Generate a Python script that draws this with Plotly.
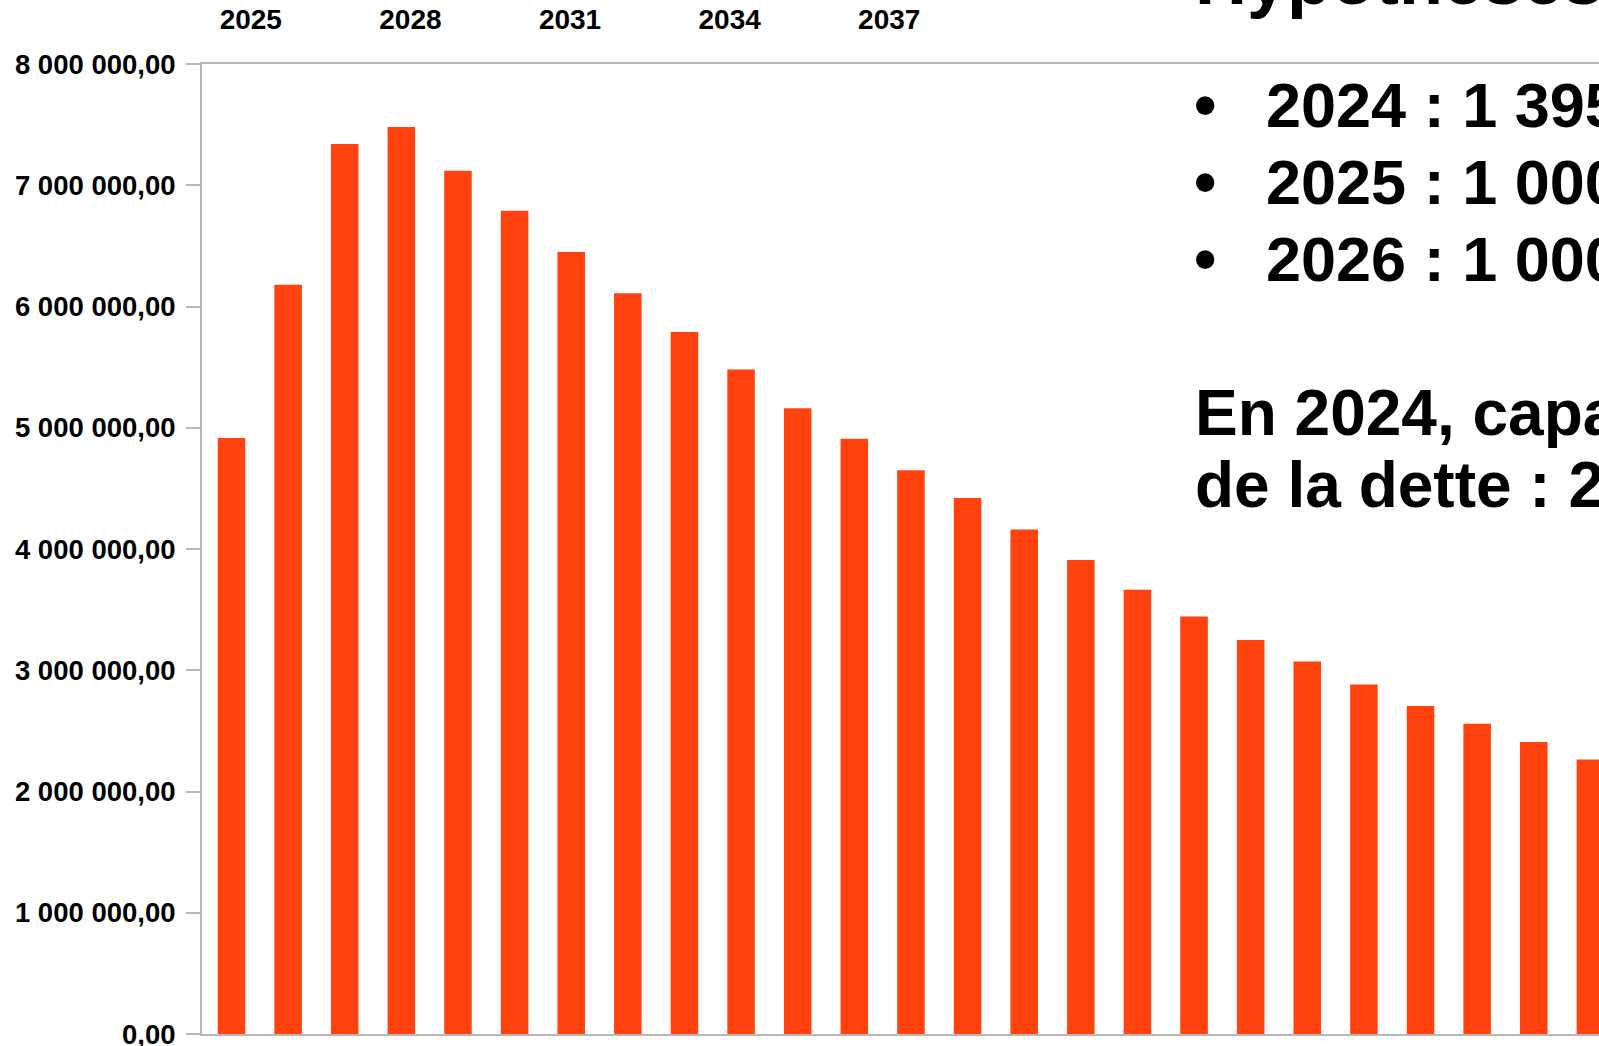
import plotly.graph_objects as go

# bar values (one bar per year)
years = list(range(2025, 2050))
amounts = [
    4915000, 6180000, 7340000, 7480000, 7120000, 6790000, 6450000, 6110000,
    5790000, 5480000, 5160000, 4910000, 4650000, 4420000, 4160000, 3910000,
    3663000, 3443000, 3250000, 3072000, 2882000, 2706000, 2558000, 2409000,
    2263000,
]

# y tick labels (french number format)
y_ticks = [0, 1000000, 2000000, 3000000, 4000000, 5000000, 6000000, 7000000, 8000000]
y_labels = ["0,00", "1 000 000,00", "2 000 000,00", "3 000 000,00", "4 000 000,00",
            "5 000 000,00", "6 000 000,00", "7 000 000,00", "8 000 000,00"]

# year labels shown along the top
top_years = [2025, 2028, 2031, 2034, 2037]

# slide text on the right
title_text = "Hypothèses"
bullet_lines = ["2024 : 1 395", "2025 : 1 000", "2026 : 1 000"]
para_lines = ["En 2024, capa", "de la dette : 2"]

BAR_COLOR = "#ff420e"
AXIS_GREY = "#b8b8b8"
FONT = "Liberation Sans"

W, H = 1599, 1046
M_L, M_T, M_B = 202, 64, 12
PLOT_W = W - M_L
PLOT_H = H - M_T - M_B


def px_x(p):
    return (p - M_L) / PLOT_W


def px_y(p):
    return (H - M_B - p) / PLOT_H


fig = go.Figure()
fig.add_trace(go.Bar(
    x=years,
    y=amounts,
    marker=dict(color=BAR_COLOR, line=dict(width=0)),
    showlegend=False,
))
# empty trace so the top year axis gets drawn
fig.add_trace(go.Scatter(
    x=top_years,
    y=[0] * len(top_years),
    xaxis="x2",
    mode="none",
    showlegend=False,
    hoverinfo="skip",
))

annotations = []
annotations.append(dict(
    text=title_text, x=px_x(1194), y=px_y(-21), xref="paper", yref="paper",
    xanchor="left", yanchor="middle", showarrow=False, borderpad=0,
    font=dict(family=FONT, size=72, color="black", weight="bold"),
))
for i, line in enumerate(bullet_lines):
    yc = 105 + i * 77
    annotations.append(dict(
        text="•", x=px_x(1193), y=px_y(yc), xref="paper", yref="paper",
        xanchor="left", yanchor="middle", showarrow=False, borderpad=0,
        font=dict(family=FONT, size=64, color="black", weight="bold"),
    ))
    annotations.append(dict(
        text=line, x=px_x(1265), y=px_y(yc), xref="paper", yref="paper",
        xanchor="left", yanchor="middle", showarrow=False, borderpad=0,
        font=dict(family=FONT, size=63, color="black", weight="bold"),
    ))
for i, line in enumerate(para_lines):
    yc = 413 + i * 72
    annotations.append(dict(
        text=line, x=px_x(1194), y=px_y(yc), xref="paper", yref="paper",
        xanchor="left", yanchor="middle", showarrow=False, borderpad=0,
        font=dict(family=FONT, size=64, color="black", weight="bold"),
    ))

fig.update_layout(
    width=W,
    height=H,
    margin=dict(l=M_L, r=0, t=M_T, b=M_B, pad=0),
    paper_bgcolor="white",
    plot_bgcolor="white",
    bargap=0.514,
    annotations=annotations,
    xaxis=dict(
        range=[2024.479, 2049.152],
        showticklabels=False,
        ticks="",
        showgrid=False,
        zeroline=False,
        showline=True,
        linecolor=AXIS_GREY,
        linewidth=2,
        mirror=True,
        automargin=False,
    ),
    xaxis2=dict(
        overlaying="x",
        side="top",
        range=[2024.083, 2050.34],
        tickmode="array",
        tickvals=top_years,
        ticktext=[str(y) for y in top_years],
        ticks="outside",
        ticklen=23,
        tickcolor="rgba(0,0,0,0)",
        showgrid=False,
        zeroline=False,
        showline=False,
        automargin=False,
        tickfont=dict(family=FONT, size=28, color="black", weight="bold"),
    ),
    yaxis=dict(
        range=[0, 8000000],
        tickmode="array",
        tickvals=y_ticks,
        ticktext=y_labels,
        ticks="outside",
        ticklen=14,
        tickwidth=2,
        tickcolor=AXIS_GREY,
        ticklabelstandoff=5,
        ticklabeloverflow="allow",
        showgrid=False,
        zeroline=False,
        showline=True,
        linecolor=AXIS_GREY,
        linewidth=2,
        automargin=False,
        tickfont=dict(family=FONT, size=27.5, color="black", weight="bold"),
    ),
)

# drop the default page margin so the figure fills the window exactly
fig.write_html(
    "out.html",
    config={"displayModeBar": False},
    post_script="document.body.style.margin='0';document.body.style.overflow='hidden';",
)
